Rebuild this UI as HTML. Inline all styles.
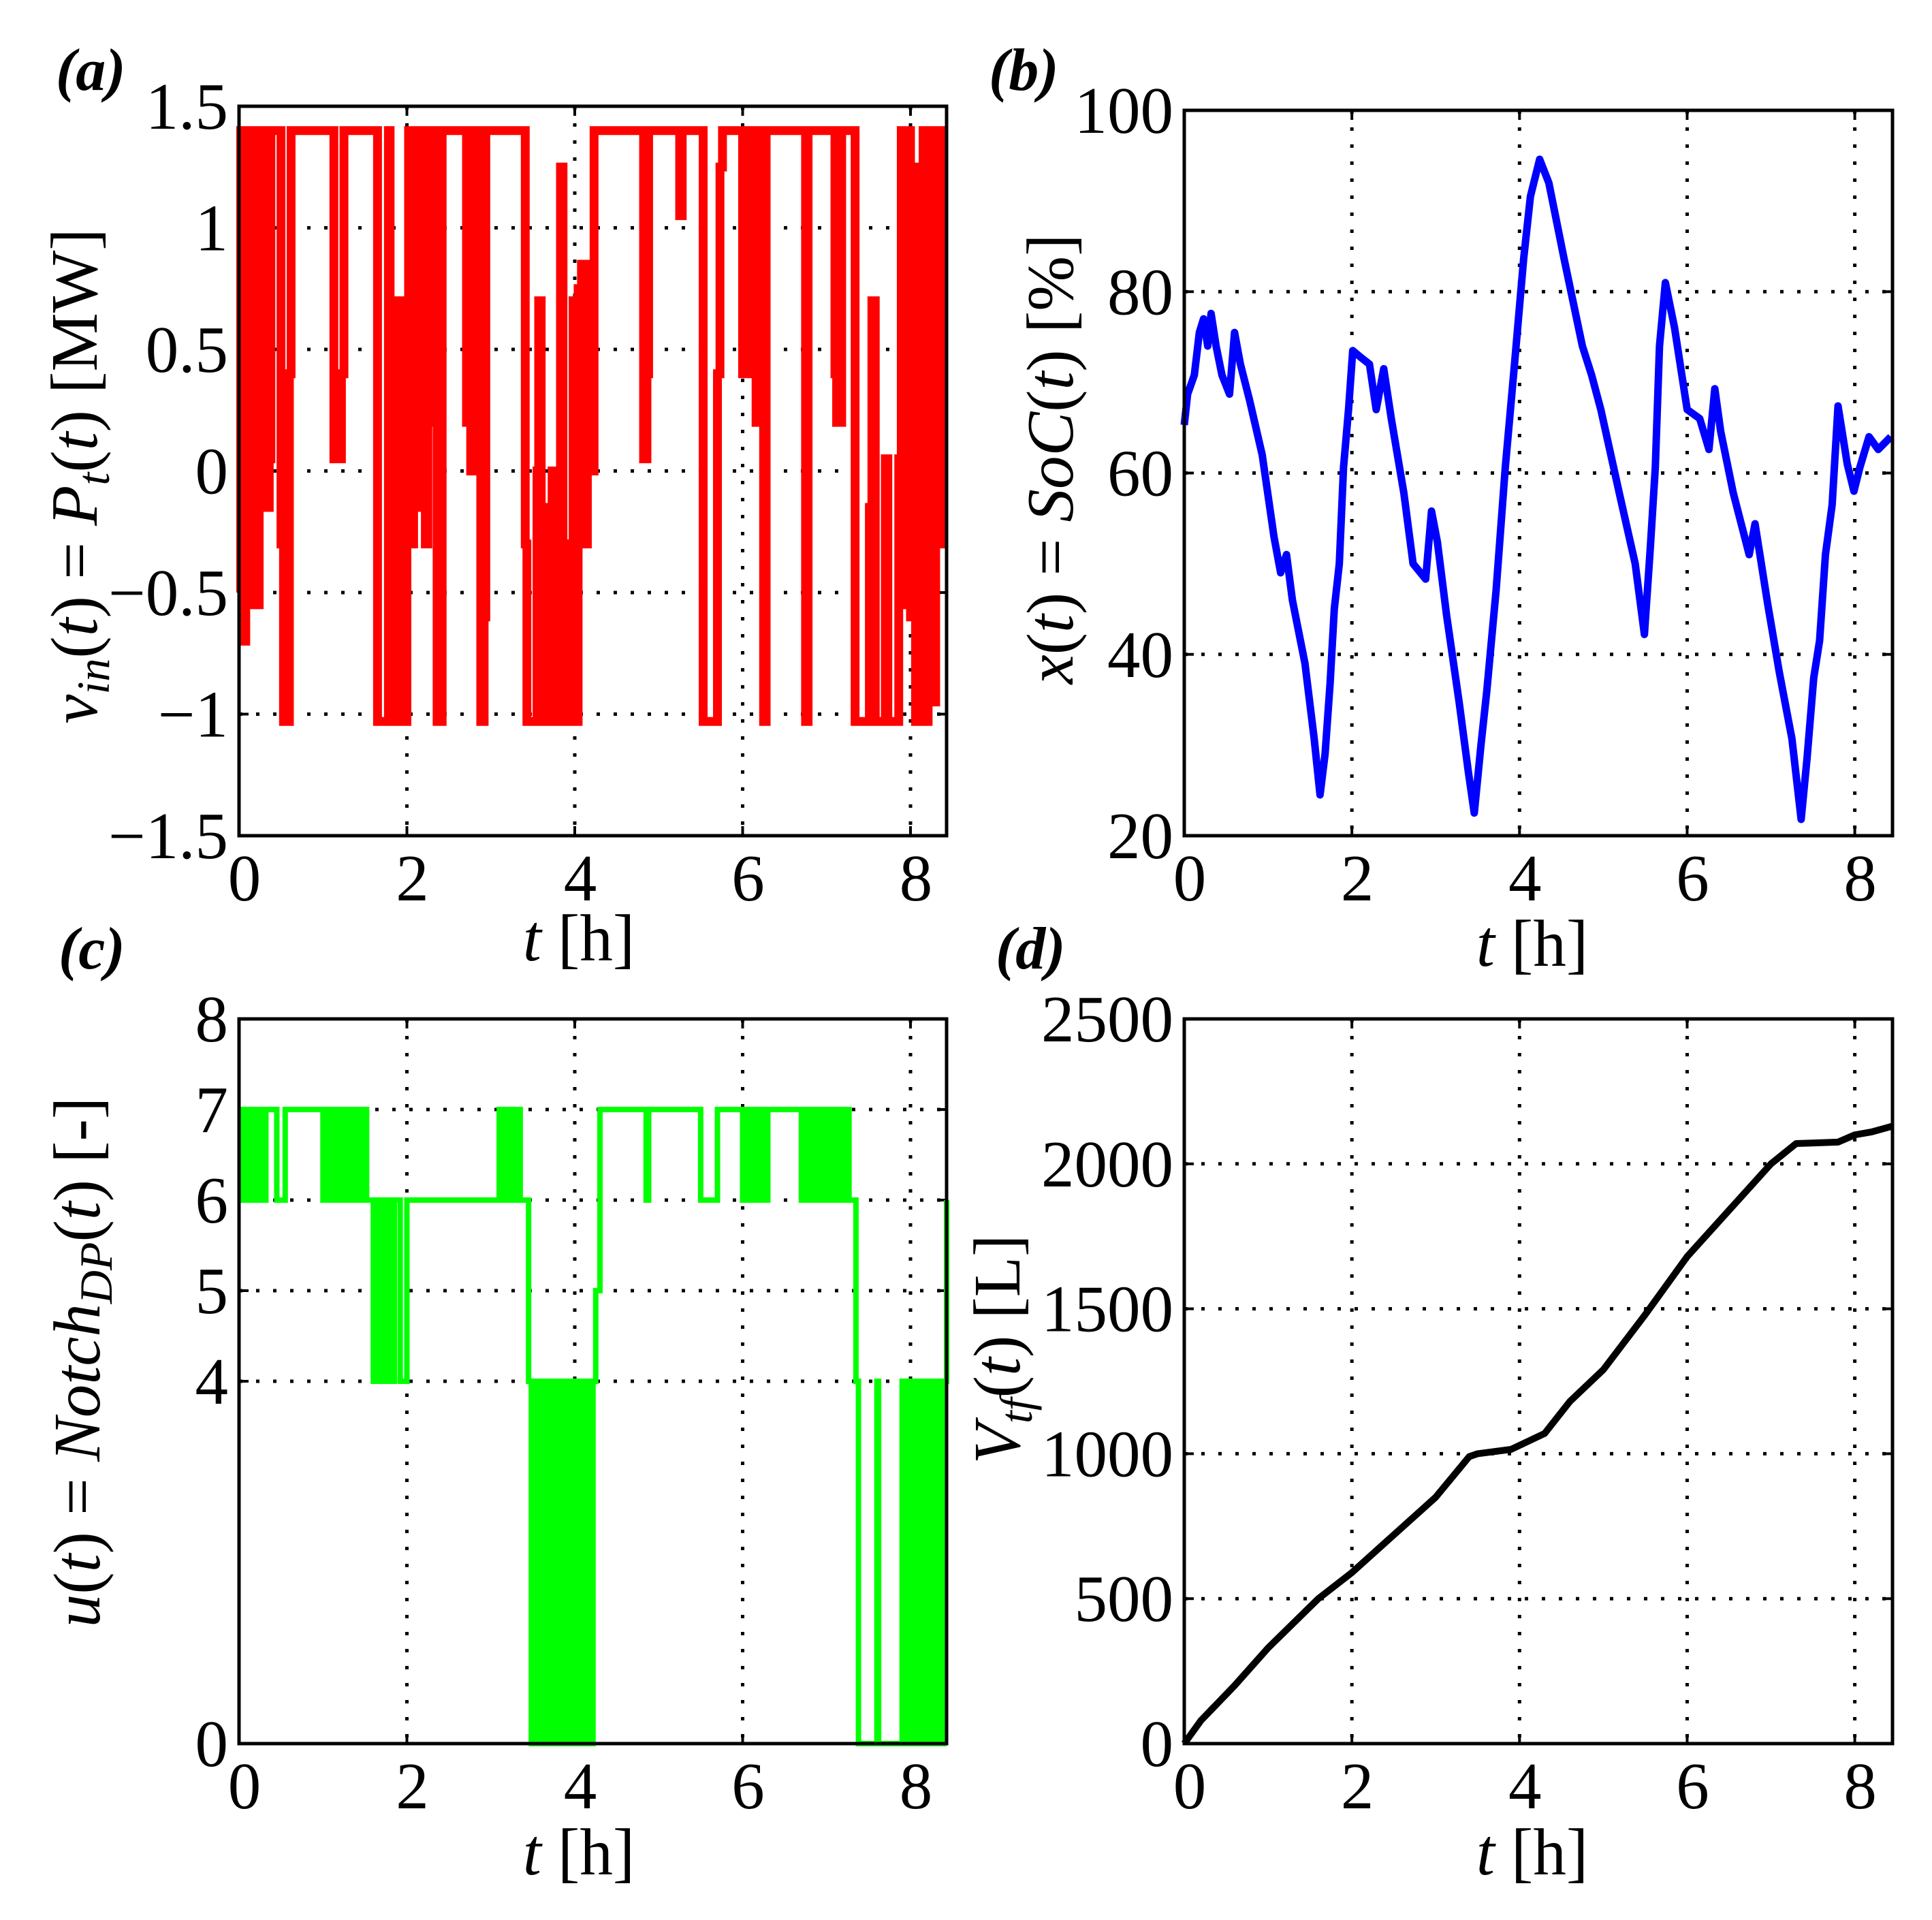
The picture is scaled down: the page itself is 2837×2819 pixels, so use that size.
<!DOCTYPE html>
<html><head><meta charset="utf-8">
<style>
html,body{margin:0;padding:0;background:#fff;}
svg{display:block;font-family:"Liberation Serif","DejaVu Serif",serif;}
</style></head>
<body>
<svg id="fig" width="2837" height="2819" viewBox="0 0 2837 2819" xmlns="http://www.w3.org/2000/svg">
<rect width="2837" height="2819" fill="#fff"/>
<text x="82" y="132" font-size="88" font-weight="bold" font-style="italic">(a)</text>
<text x="1452" y="132" font-size="88" font-weight="bold" font-style="italic">(b)</text>
<text x="86" y="1422" font-size="88" font-weight="bold" font-style="italic">(c)</text>
<text x="1462" y="1422" font-size="88" font-weight="bold" font-style="italic">(d)</text>

<text transform="translate(142,699) rotate(-90)" text-anchor="middle" font-size="97"><tspan font-style="italic">v</tspan><tspan font-style="italic" font-size="68" dy="18">in</tspan><tspan dy="-18">(</tspan><tspan font-style="italic">t</tspan><tspan>) = </tspan><tspan font-style="italic">P</tspan><tspan font-style="italic" font-size="68" dy="18">t</tspan><tspan dy="-18">(</tspan><tspan font-style="italic">t</tspan><tspan>) [MW]</tspan></text>
<text transform="translate(1575,674) rotate(-90)" text-anchor="middle" font-size="97"><tspan font-style="italic">x</tspan>(<tspan font-style="italic">t</tspan>) = <tspan font-style="italic">SoC</tspan>(<tspan font-style="italic">t</tspan>) [%]</text>
<text transform="translate(146,2000) rotate(-90)" text-anchor="middle" font-size="97"><tspan font-style="italic">u</tspan>(<tspan font-style="italic">t</tspan>) = <tspan font-style="italic">Notch</tspan><tspan font-style="italic" font-size="68" dy="18">DP</tspan><tspan dy="-18">(</tspan><tspan font-style="italic">t</tspan>) [-]</text>
<text transform="translate(1497,1981) rotate(-90)" text-anchor="middle" font-size="97"><tspan font-style="italic">V</tspan><tspan font-style="italic" font-size="68" dy="18">tf</tspan><tspan dy="-18">(</tspan><tspan font-style="italic">t</tspan>) [L]</text>

<text x="850" y="1410" text-anchor="middle" font-size="97"><tspan font-style="italic">t</tspan> [h]</text>
<text x="2250" y="1418" text-anchor="middle" font-size="97"><tspan font-style="italic">t</tspan> [h]</text>
<text x="850" y="2752" text-anchor="middle" font-size="97"><tspan font-style="italic">t</tspan> [h]</text>
<text x="2250" y="2752" text-anchor="middle" font-size="97"><tspan font-style="italic">t</tspan> [h]</text>
</svg>
<script>
// ---- data ----
const xTicks = [0, 2, 4, 6, 8];
const yTicksA = [-1.5, -1, -0.5, 0, 0.5, 1, 1.5];
const yTickLabelsA = ["\u22121.5", "\u22121", "\u22120.5", "0", "0.5", "1", "1.5"];
const yTicksB = [20, 40, 60, 80, 100];
const yTicksC = [0, 4, 5, 6, 7, 8];
const yTicksD = [0, 500, 1000, 1500, 2000, 2500];

const powerT = [0,0.02,0.05,0.08,0.1,0.13,0.16,0.19,0.22,0.24,0.27,0.3,0.33,0.36,0.38,0.5,0.53,0.6,0.62,1.13,1.22,1.25,1.65,1.78,1.8,1.84,1.86,1.9,1.93,1.95,1.97,2.0,2.02,2.05,2.08,2.1,2.13,2.16,2.19,2.22,2.25,2.3,2.33,2.36,2.42,2.71,2.74,2.76,2.8,2.82,2.88,2.92,2.94,3.41,3.43,3.55,3.57,3.6,3.65,3.68,3.73,3.76,3.8,3.83,3.86,3.9,3.93,3.98,4.0,4.04,4.08,4.13,4.15,4.2,4.23,4.82,4.86,4.88,5.25,5.28,5.53,5.7,5.73,5.76,6.0,6.05,6.08,6.12,6.16,6.2,6.25,6.28,6.75,6.78,7.1,7.12,7.18,7.34,7.51,7.54,7.58,7.7,7.73,7.86,7.89,7.93,7.96,8.0,8.03,8.06,8.09,8.12,8.15,8.18,8.21,8.24,8.28,8.3,8.33,8.38,8.43];
const powerV = [-0.5,1.4,-0.7,1.4,-0.55,1.25,-0.55,1.4,-0.55,1.4,0.0,1.4,-0.15,0.05,1.4,-0.3,-1.03,0.4,1.4,0.05,0.4,1.4,-1.03,1.4,-1.03,0.2,-1.03,0.7,-0.5,0.4,-1.03,0.2,1.4,-0.3,1.4,-0.15,1.4,0.4,1.4,-0.3,1.4,0.2,1.4,-1.03,1.4,0.2,1.4,0.0,0.2,1.4,-1.03,-0.6,1.4,-0.3,-1.03,0.0,0.7,-1.03,-0.15,-1.03,0.0,-1.03,-0.3,1.25,-1.03,-0.3,-1.03,0.7,-1.03,0.75,0.85,-0.3,0.85,0.0,1.4,0.05,0.4,1.4,1.05,1.4,-1.03,0.4,1.25,1.4,0.4,1.4,0.4,1.4,0.2,1.4,-1.03,1.4,-1.03,1.4,0.4,0.2,1.4,-1.03,-0.15,0.7,-1.03,0.05,-1.03,0.05,1.4,-0.55,1.4,-0.6,0.7,-1.03,1.25,-0.8,1.4,-1.03,0.05,1.4,-0.95,-0.3,1.4,-0.3,-0.3];

const socT = [0,0.04,0.12,0.18,0.23,0.28,0.32,0.38,0.45,0.54,0.6,0.67,0.78,0.93,1.07,1.15,1.22,1.29,1.44,1.55,1.62,1.68,1.74,1.79,1.85,1.9,1.96,2.01,2.1,2.21,2.29,2.38,2.47,2.62,2.73,2.88,2.95,3.02,3.13,3.28,3.39,3.46,3.54,3.61,3.72,3.83,3.94,4.05,4.13,4.24,4.35,4.53,4.75,4.86,4.97,5.19,5.38,5.49,5.56,5.62,5.67,5.74,5.85,6.0,6.15,6.26,6.33,6.4,6.55,6.74,6.81,6.96,7.1,7.25,7.36,7.43,7.51,7.58,7.65,7.73,7.8,7.91,7.99,8.06,8.17,8.28,8.43];
const socV = [65.3,68.7,70.8,75.5,77,74,77.6,74,70.8,68.7,75.5,72,68,62,53,49,51,46,39,30.7,24.5,29,36.8,45,50,60.6,67,73.5,72.8,72,67,71.5,66,57.8,50,48.3,55.8,52.4,44.3,34.7,27,22.5,30,36,47,60.6,72,83.7,90.5,94.6,92,83.7,74,70.8,67,57.8,50,42.2,51.7,60.6,74,81,76,67,66,62.6,69.3,64.6,57.8,51,54.4,45.6,38,30.7,21.8,28.5,37.4,41.5,51,56.5,67.4,61,58,60.6,64,62.6,64];

const notchT = [0,0.3,0.32,0.45,0.55,1.0,1.05,1.52,1.6,1.85,1.92,2.0,3.1,3.35,3.45,3.72,3.78,4.25,4.3,4.85,4.88,5.5,5.7,6.0,6.3,6.7,7.3,7.35,7.38,7.6,7.62,7.9,8.43];
const notchV = [7,6,7,6,7,6,7,6,4,6,4,6,7,6,4,0,4,5,7,6,7,6,7,6,7,6,6,4,0,4,0,4,6];
const chatterStart = [0,1.0,1.6,3.1,3.45,3.78,6.02,6.7,7.9];
const chatterEnd = [0.3,1.5,1.82,3.33,3.72,4.25,6.3,7.3,8.43];
const chatterLow = [6,6,4,6,0,0,6,6,0];
const chatterHigh = [7,7,6,7,4,4,7,7,4];

const fuelT = [0,0.2,0.6,1.0,1.6,2.0,2.5,3.0,3.4,3.5,3.9,4.3,4.6,5.0,5.5,6.0,6.5,7.0,7.3,7.8,8.0,8.2,8.45];
const fuelV = [0,80,200,330,500,590,720,850,990,1000,1015,1070,1180,1290,1480,1680,1840,2000,2070,2075,2100,2110,2130];

// ---- drawing ----
const NS = "http://www.w3.org/2000/svg";
const svg = document.getElementById('fig');
function mk(tag, attrs, parent) {
  const e = document.createElementNS(NS, tag);
  for (const k in attrs) e.setAttribute(k, attrs[k]);
  (parent || svg).appendChild(e);
  return e;
}
function makeAxes(L, R, T, B, x0, x1, y0, y1) {
  return {
    x: v => L + (v - x0) / (x1 - x0) * (R - L),
    y: v => B - (v - y0) / (y1 - y0) * (B - T),
    L, R, T, B
  };
}
function frame(ax, name, yt, ytl, y0, y1) {
  const g = mk('g', {});
  
  
  xTicks.forEach(v => {
    const X = ax.x(v);
    if (X > ax.L + 3 && X < ax.R - 3) {
      const l = mk('line', {x1: X, x2: X, y1: ax.T, y2: ax.B, stroke: '#000', 'stroke-width': 5, 'stroke-dasharray': '5 20'}, g);
      
      
    }
    mk('line', {x1: X, x2: X, y1: ax.B, y2: ax.B - 14, stroke: '#000', 'stroke-width': 4}, g);
    mk('line', {x1: X, x2: X, y1: ax.T, y2: ax.T + 14, stroke: '#000', 'stroke-width': 4}, g);
    const t = mk('text', {x: X + 8, y: ax.B + 95, 'text-anchor': 'middle', 'font-size': 97}, g);
    t.textContent = String(v);
    
    
  });
  yt.forEach((v, i) => {
    const Y = ax.y(v);
    if (v !== y0 && v !== y1) {
      const l = mk('line', {x1: ax.L, x2: ax.R, y1: Y, y2: Y, stroke: '#000', 'stroke-width': 5, 'stroke-dasharray': '5 20'}, g);
      
      
    }
    mk('line', {x1: ax.L, x2: ax.L + 14, y1: Y, y2: Y, stroke: '#000', 'stroke-width': 4}, g);
    mk('line', {x1: ax.R, x2: ax.R - 14, y1: Y, y2: Y, stroke: '#000', 'stroke-width': 4}, g);
    const t = mk('text', {x: ax.L - 16, y: Y + 33, 'text-anchor': 'end', 'font-size': 97}, g);
    t.textContent = ytl ? ytl[i] : String(v);
    
    
  });
  return g;
}
function border(ax, name) {
  const r = mk('rect', {x: ax.L, y: ax.T, width: ax.R - ax.L, height: ax.B - ax.T, fill: 'none', stroke: '#000', 'stroke-width': 5});
  
  
}
function stepPath(ax, ts, vs) {
  let d = 'M' + ax.x(ts[0]) + ' ' + ax.y(vs[0]);
  for (let i = 1; i < ts.length; i++) {
    d += ' H' + ax.x(ts[i]) + ' V' + ax.y(vs[i]);
  }
  return d;
}
function linePath(ax, ts, vs) {
  return ts.map((t, i) => (i ? 'L' : 'M') + ax.x(t) + ' ' + ax.y(vs[i])).join(' ');
}

// (a)
const axA = makeAxes(351, 1390, 156, 1227, 0, 8.43, -1.5, 1.5);
frame(axA, 'panel-a', yTicksA, yTickLabelsA, -1.5, 1.5);
const pa = mk('path', {d: stepPath(axA, powerT, powerV), fill: 'none', stroke: '#ff0000', 'stroke-width': 13});


border(axA, 'panel-a');

// (b)
const axB = makeAxes(1739, 2779, 162, 1227, 0, 8.45, 20, 100);
frame(axB, 'panel-b', yTicksB, null, 20, 100);
const pb = mk('path', {d: linePath(axB, socT, socV), fill: 'none', stroke: '#0000ff', 'stroke-width': 11, 'stroke-linejoin': 'round'});


border(axB, 'panel-b');

// (c)
const axC = makeAxes(351, 1390, 1496, 2560, 0, 8.43, 0, 8);
frame(axC, 'panel-c', yTicksC, null, 0, 8);
chatterStart.forEach((s, i) => {
  const r = mk('rect', {x: axC.x(s), y: axC.y(chatterHigh[i]) - 4, width: axC.x(chatterEnd[i]) - axC.x(s), height: axC.y(chatterLow[i]) - axC.y(chatterHigh[i]) + 8, fill: '#00ff00'});
  
  
});
const pc = mk('path', {d: stepPath(axC, notchT, notchV), fill: 'none', stroke: '#00ff00', 'stroke-width': 8});


border(axC, 'panel-c');

// (d)
const axD = makeAxes(1739, 2779, 1496, 2560, 0, 8.45, 0, 2500);
frame(axD, 'panel-d', yTicksD, null, 0, 2500);
const pd = mk('path', {d: linePath(axD, fuelT, fuelV), fill: 'none', stroke: '#000', 'stroke-width': 10, 'stroke-linejoin': 'round'});


border(axD, 'panel-d');
</script>
</body></html>
